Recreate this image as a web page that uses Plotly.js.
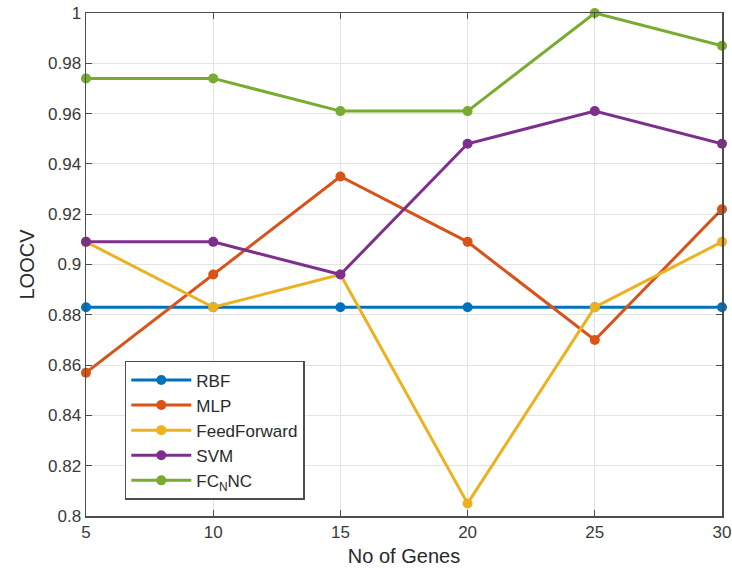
<!DOCTYPE html>
<html>
<head>
<meta charset="utf-8">
<script src="https://cdn.plot.ly/plotly-3.0.1.min.js"></script>
<style>
  html, body { margin: 0; padding: 0; background: #fff; }
  #chart { width: 732px; height: 580px; }
</style>
</head>
<body>
<div id="chart"></div>
<script>
// Number of selected genes
const genes = [5, 10, 15, 20, 25, 30];

// Leave-one-out cross-validation accuracy per classifier
const rbf         = [0.883, 0.883, 0.883, 0.883, 0.883, 0.883];
const mlp         = [0.857, 0.896, 0.935, 0.909, 0.870, 0.922];
const feedForward = [0.909, 0.883, 0.896, 0.805, 0.883, 0.909];
const svm         = [0.909, 0.909, 0.896, 0.948, 0.961, 0.948];
const fcnnc       = [0.974, 0.974, 0.961, 0.961, 1.000, 0.987];

const seriesNames = ['RBF', 'MLP', 'FeedForward', 'SVM', 'FC<sub>N</sub>NC'];
const seriesData = [rbf, mlp, feedForward, svm, fcnnc];
const seriesColors = ['#0072BD', '#D95319', '#EDB120', '#7E2F8E', '#77AC30'];

const yTicks = [0.8, 0.82, 0.84, 0.86, 0.88, 0.9, 0.92, 0.94, 0.96, 0.98, 1];
const yTickLabels = ['0.8', '0.82', '0.84', '0.86', '0.88', '0.9', '0.92', '0.94', '0.96', '0.98', '1'];

const FONT = 'Arial, Liberation Sans, sans-serif';

const traces = seriesData.map((ys, i) => ({
  x: genes,
  y: ys,
  name: seriesNames[i],
  type: 'scatter',
  mode: 'lines+markers',
  line: { color: seriesColors[i], width: 3 },
  marker: { color: seriesColors[i], size: 10 },
  cliponaxis: false
}));

const axisCommon = {
  showline: true,
  linecolor: '#4d4d4d',
  linewidth: 1.5,
  mirror: 'ticks',
  ticks: 'inside',
  ticklen: 6,
  tickcolor: '#4d4d4d',
  tickwidth: 1,
  showgrid: true,
  gridcolor: '#e3e3e3',
  gridwidth: 1,
  zeroline: false,
  tickfont: { family: FONT, size: 17, color: '#3a3a3a' }
};

const layout = {
  width: 732,
  height: 580,
  margin: { l: 86, r: 10, t: 13, b: 64 },
  paper_bgcolor: '#ffffff',
  plot_bgcolor: '#ffffff',
  showlegend: true,
  legend: {
    x: 0.061, y: 0.032,
    xanchor: 'left', yanchor: 'bottom',
    bgcolor: '#ffffff',
    bordercolor: '#4d4d4d',
    borderwidth: 1.5,
    font: { family: FONT, size: 17, color: '#2a2a2a' },
    tracegroupgap: 0,
    itemwidth: 60
  },
  xaxis: Object.assign({}, axisCommon, {
    range: [5, 30],
    tickvals: genes,
    ticktext: genes.map(String),
    title: { text: 'No of Genes', font: { family: FONT, size: 20, color: '#2a2a2a' }, standoff: 8 }
  }),
  yaxis: Object.assign({}, axisCommon, {
    range: [0.8, 1],
    tickvals: yTicks,
    ticktext: yTickLabels,
    title: { text: 'LOOCV', font: { family: FONT, size: 20, color: '#2a2a2a' }, standoff: 8 }
  })
};

Plotly.newPlot('chart', traces, layout, { displayModeBar: false, staticPlot: true });
</script>
</body>
</html>
